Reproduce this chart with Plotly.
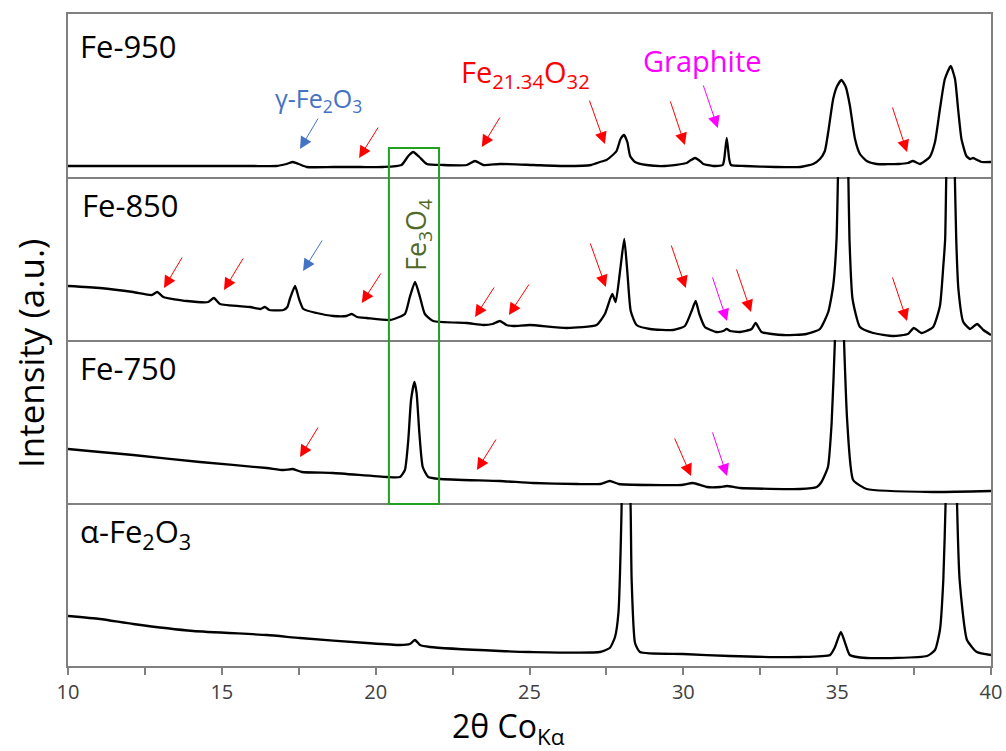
import plotly.graph_objects as go
from plotly.subplots import make_subplots

# ---------------- data (2theta in degrees, intensity in a.u. per panel) ----------------
fe950_x = [10, 12, 14, 16, 16.78, 17.1, 17.31, 17.5, 17.76, 18.62, 19.5, 20.24, 20.84, 21.06, 21.22,
           21.42, 21.66, 22.2, 22.96, 23.23, 23.5, 24.04, 25.12, 26.2, 27.0, 27.29, 27.5, 27.67, 27.83,
           27.96, 28.07, 28.18, 28.27, 28.43, 28.81, 29.4, 30.11, 30.25, 30.38, 30.5, 30.65, 30.97,
           31.28, 31.33, 31.41, 31.49, 31.55, 32.0, 33.0, 33.8, 34.22, 34.44, 34.6, 34.71, 34.87, 35.0,
           35.14, 35.28, 35.41, 35.58, 35.74, 35.96, 36.28, 37.0, 37.3, 37.46, 37.69, 38.01, 38.18,
           38.34, 38.5, 38.69, 38.83, 38.94, 39.04, 39.2, 39.32, 39.42, 39.55, 39.69, 40]
fe950_y = [11, 11, 11, 11, 11, 13, 15, 13, 10, 10, 10, 10, 12, 21, 25,
           20, 13, 12, 12, 16, 12, 13, 12, 11, 12, 15, 17, 21, 26,
           38, 42, 35, 21, 15, 12, 11, 14, 17, 19, 17, 13, 11,
           12, 18, 39, 18, 12, 11, 10, 10, 13, 18, 26, 45, 78, 91,
           97, 90, 72, 38, 23, 16, 13, 13, 14, 16, 13, 20, 35,
           68, 98, 111, 98, 65, 38, 21, 18, 19, 17, 15, 15]

fe850_x = [10, 11.04, 12.12, 12.72, 12.9, 13.1, 13.86, 14.56, 14.74, 14.94, 15.92, 16.25, 16.4,
           16.55, 17.0, 17.13, 17.21, 17.38, 17.51, 17.65, 18.08, 18.62, 19.05, 19.22, 19.4, 19.71,
           20.47, 20.95, 21.11, 21.28, 21.44, 21.6, 21.87, 22.96, 23.5, 23.8, 24.04, 24.25, 24.47,
           25.01, 26.21, 27.18, 27.45, 27.69, 27.8, 27.94, 28.08, 28.18, 28.29, 28.48, 28.92, 29.67,
           30.05, 30.27, 30.4, 30.52, 30.7, 31.08, 31.3, 31.41, 31.52, 31.84, 32.22, 32.35, 32.54,
           33.25, 34.0, 34.44, 34.71, 34.87, 34.98, 35.03, 35.12, 35.2, 35.28, 35.36, 35.4, 35.5,
           35.74, 36.17, 36.82, 37.3, 37.49, 37.74, 38.12, 38.34, 38.45, 38.51, 38.55, 38.69, 38.82,
           38.87, 38.94, 39.1, 39.32, 39.55, 39.75, 40]
fe850_y = [54, 52, 48, 45, 48, 43, 39, 38, 42, 36, 33, 31, 33,
           30, 30, 33, 41, 54, 41, 31, 27, 24, 24, 26, 23, 22,
           20, 26, 43, 58, 43, 26, 19, 17, 15, 16, 19, 15, 14,
           15, 12, 15, 26, 46, 38, 68, 101, 68, 29, 15, 11, 10,
           14, 29, 39, 26, 13, 8, 9, 11, 9, 8, 11, 17, 8,
           5, 6, 11, 28, 54, 101, 170, 280, 300, 280, 170, 101, 41,
           13, 7, 4, 6, 12, 7, 13, 34, 74, 101, 170, 320, 170,
           101, 51, 18, 11, 16, 10, 5]

fe750_x = [10, 11.04, 12.12, 14.29, 16.46, 17.0, 17.31, 17.6, 18.61, 20.36, 20.79, 20.95, 21.06,
           21.15, 21.26, 21.33, 21.42, 21.53, 21.71, 22.09, 24.04, 25.11, 26.53, 27.3, 27.61, 27.9,
           28.91, 29.94, 30.31, 30.77, 31.2, 31.42, 31.84, 33.79, 34.34, 34.49, 34.7, 34.82, 34.93,
           35.0, 35.07, 35.14, 35.22, 35.33, 35.52, 35.96, 38.11, 40]
fe750_y = [54, 51, 48, 41, 35, 33, 34, 31, 30, 26, 26, 33, 63,
           103, 121, 110, 70, 36, 26, 24, 22, 20, 19, 19, 22, 19,
           18, 18, 20, 16, 16, 17, 15, 14, 16, 21, 36, 80, 165,
           260, 280, 260, 165, 80, 23, 14, 11, 12]

afe2o3_x = [10, 11.04, 12.12, 14.07, 16.46, 17.54, 19.71, 20.79, 21.11, 21.28, 21.44, 21.76, 24.04,
            25.01, 27.29, 27.61, 27.78, 27.89, 27.99, 28.06, 28.13, 28.2, 28.29, 28.32, 28.43, 28.59,
            29.99, 31.51, 33.79, 34.77, 34.93, 35.12, 35.28, 35.41, 35.96, 37.92, 38.18, 38.34, 38.45,
            38.53, 38.62, 38.71, 38.8, 38.89, 38.98, 39.22, 39.54, 40]
afe2o3_y = [50, 47, 42, 35, 31, 28, 23, 21, 22, 26, 21, 19, 15,
            14, 14, 18, 29, 53, 153, 300, 500, 300, 153, 86, 23, 14,
            12, 10, 9, 11, 19, 34, 21, 11, 8, 10, 16, 36, 86,
            170, 350, 500, 350, 170, 86, 26, 14, 11]

panel_names = ["Fe-950", "Fe-850", "Fe-750", "α-Fe<sub>2</sub>O<sub>3</sub>"]
tick_vals = [10, 12.5, 15, 17.5, 20, 22.5, 25, 27.5, 30, 32.5, 35, 37.5, 40]
tick_text = ["10", "", "15", "", "20", "", "25", "", "30", "", "35", "", "40"]

# arrows: (panel, head 2theta, head intensity, tail dx px, tail dy px, colour)
RED, BLUE, MAG = "#FF0000", "#4472C4", "#FF00FF"
arrows = [
    (1, 17.54, 28, 19, -32, BLUE), (1, 19.46, 19, 20, -32, RED), (1, 23.45, 30, 19, -31, RED),
    (1, 27.45, 33, -16, -45, RED), (1, 30.05, 32, -15, -45, RED), (1, 31.12, 49, -15, -44, MAG),
    (1, 37.27, 25, -15, -46, RED),
    (2, 13.12, 52, 19, -32, RED), (2, 15.07, 50, 20, -33, RED), (2, 17.64, 69, 20, -32, BLUE),
    (2, 19.55, 37, 20, -31, RED), (2, 23.23, 23, 20, -31, RED), (2, 24.33, 25, 21, -32, RED),
    (2, 27.48, 53, -16, -45, RED), (2, 30.08, 52, -15, -44, RED), (2, 31.42, 19, -15, -45, MAG),
    (2, 32.2, 28, -15, -44, RED), (2, 37.27, 19, -15, -45, RED),
    (3, 17.54, 46, 19, -31, RED), (3, 23.29, 33, 20, -32, RED), (3, 30.25, 27, -17, -39, RED),
    (3, 31.42, 27, -15, -45, MAG),
]

# ---------------- figure ----------------
W, H = 1006, 751
ML, MR, MT, MB = 68, 15, 14, 85
PW, PH = W - ML - MR, H - MT - MB


def px(xp):
    return (xp - ML) / PW


def py(yp):
    return (H - MB - yp) / PH


fig = make_subplots(rows=4, cols=1, shared_xaxes=True, vertical_spacing=0)
series = [(fe950_x, fe950_y), (fe850_x, fe850_y), (fe750_x, fe750_y), (afe2o3_x, afe2o3_y)]
for i, (xs, ys) in enumerate(series):
    fig.add_trace(go.Scatter(x=xs, y=ys, mode="lines",
                             line=dict(color="black", width=2.3, shape="spline", smoothing=0.5),
                             showlegend=False, hoverinfo="skip"), row=i + 1, col=1)

FONT = "Open Sans"
AX = "#808080"
for i in range(1, 5):
    fig.update_yaxes(range=[0, 163], showline=True, mirror=True, linecolor=AX, linewidth=1.5,
                     showticklabels=False, ticks="", showgrid=False, zeroline=False,
                     automargin=False, row=i, col=1)
    fig.update_xaxes(range=[10, 40], showline=True, mirror=(i == 1), linecolor=AX, linewidth=1.5,
                     showgrid=False, zeroline=False, automargin=False, row=i, col=1,
                     showticklabels=(i == 4), ticks="outside" if i == 4 else "",
                     tickvals=tick_vals, ticktext=tick_text, ticklen=7, tickwidth=1.5, tickcolor=AX,
                     tickfont=dict(family=FONT, size=20, color="#404040"))

ann = []
# panel labels
label_pos = [(78, 46), (80, 205), (78, 368), (78, 533)]
for name, (lx, ly) in zip(panel_names, label_pos):
    ann.append(dict(text=name, x=px(lx), y=py(ly), xref="paper", yref="paper", xanchor="left",
                    yanchor="middle", showarrow=False, font=dict(family=FONT, size=31, color="black")))

# phase labels
ann.append(dict(text="γ-Fe<sub>2</sub>O<sub>3</sub>", x=px(318), y=py(99), xref="paper", yref="paper",
                xanchor="center", yanchor="middle",
                showarrow=False, font=dict(family=FONT, size=25, color=BLUE)))
ann.append(dict(text="Fe<sub>21.34</sub>O<sub>32</sub>", x=px(525), y=py(73), xref="paper", yref="paper",
                xanchor="center", yanchor="middle",
                showarrow=False, font=dict(family=FONT, size=29, color=RED)))
ann.append(dict(text="Graphite", x=px(702), y=py(60), xref="paper", yref="paper",
                xanchor="center", yanchor="middle",
                showarrow=False, font=dict(family=FONT, size=29, color=MAG)))
ann.append(dict(text="Fe<sub>3</sub>O<sub>4</sub>", x=21.34, y=105, xref="x2", yref="y2", textangle=-90,
                xanchor="center", yanchor="middle",
                showarrow=False, font=dict(family=FONT, size=27, color="#4F6A28")))

# axis titles
ann.append(dict(text="2θ Co<sub>Kα</sub>", x=px(508), y=py(728), xref="paper", yref="paper",
                xanchor="center", yanchor="middle",
                showarrow=False, font=dict(family=FONT, size=32, color="black")))
ann.append(dict(text="Intensity (a.u.)", x=px(30), y=py(354), xref="paper", yref="paper", textangle=-90,
                xanchor="center", yanchor="middle",
                showarrow=False, font=dict(family=FONT, size=35, color="black")))

# arrows
for panel, hx, hy, dx, dy, col in arrows:
    sfx = "" if panel == 1 else str(panel)
    ann.append(dict(text="", x=hx, y=hy, xref="x" + sfx, yref="y" + sfx, ax=dx, ay=dy,
                    showarrow=True, arrowhead=2, arrowsize=2.4, arrowwidth=1, arrowcolor=col,
                    standoff=0))

fig.update_layout(annotations=ann)

# Fe3O4 box
fig.add_shape(type="rect", xref="x", yref="paper", x0=20.43, x1=22.06, y0=py(504), y1=py(148),
              line=dict(color="#22A022", width=2), fillcolor="rgba(0,0,0,0)")

fig.update_layout(width=W, height=H, margin=dict(l=ML, r=MR, t=MT, b=MB, autoexpand=False),
                  paper_bgcolor="white", plot_bgcolor="white", showlegend=False)

fig.write_html("out.html")
